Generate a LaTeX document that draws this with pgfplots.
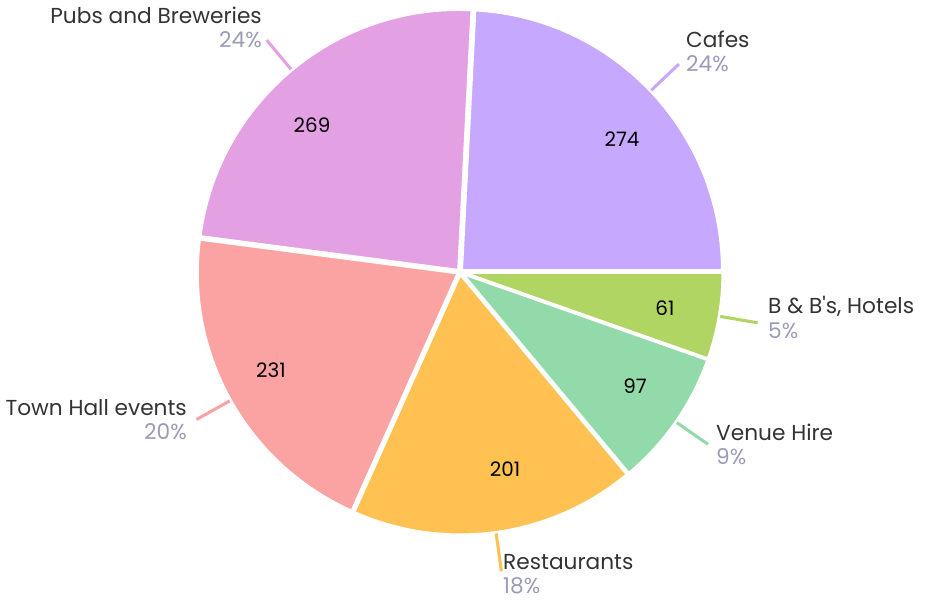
\documentclass[border=0pt]{standalone}
\usepackage{fontspec}
\setmainfont{Poppins}
\usepackage{pgfplots}
\usepackage{pgfplotstable}
\pgfplotsset{compat=1.18}

\definecolor{c0}{HTML}{C6A8FE}
\definecolor{c1}{HTML}{B1D563}
\definecolor{c2}{HTML}{93DAAA}
\definecolor{c3}{HTML}{FEC152}
\definecolor{c4}{HTML}{FBA3A3}
\definecolor{c5}{HTML}{E3A0E3}
\definecolor{nametext}{HTML}{333333}
\definecolor{pcttext}{HTML}{9B9BB8}

% slices, clockwise from Cafes
\pgfplotstableread[col sep=comma]{
idx,value
0,274
1,61
2,97
3,201
4,231
5,269
}\piedata

\newcommand\pS[1]{\csname pieS#1\endcsname}
\newcommand\pE[1]{\csname pieE#1\endcsname}
\newcommand\pV[1]{\csname pieV#1\endcsname}

\begin{document}%
\begin{tikzpicture}
% totals and angles computed from the data
\gdef\total{0}
\foreach \i in {0,...,5}{%
  \pgfplotstablegetelem{\i}{value}\of\piedata
  \pgfmathsetmacro\t{\total+\pgfplotsretval}%
  \xdef\total{\t}%
}
\pgfplotstablegetelem{0}{value}\of\piedata
\pgfmathsetmacro\curtmp{360*(\pgfplotsretval/\total)}
\xdef\cur{\curtmp}
\foreach \i in {0,...,5}{%
  \pgfplotstablegetelem{\i}{value}\of\piedata
  \pgfmathsetmacro\e{\cur-360*(\pgfplotsretval/\total)}%
  \expandafter\xdef\csname pieS\i\endcsname{\cur}%
  \expandafter\xdef\csname pieE\i\endcsname{\e}%
  \expandafter\xdef\csname pieV\i\endcsname{\pgfplotsretval}%
  \xdef\cur{\e}%
}
\begin{axis}[
  x=0.03cm, y=0.03cm,
  xmin=0, xmax=926, ymin=0, ymax=600,
  hide axis, clip=false,
]
\coordinate (bbSW) at (axis cs:0,0);
\coordinate (bbNE) at (axis cs:926,600);
\pgfplotsinvokeforeach{0,...,5}{
  \fill[fill=c#1, draw=white, line width=2.6pt, line join=round]
    (axis cs:{460+2*cos((\pS{#1}+\pE{#1})/2)},{328+2*sin((\pS{#1}+\pE{#1})/2)})
    -- (axis cs:{460+2*cos((\pS{#1}+\pE{#1})/2)+261*cos(\pS{#1})},{328+2*sin((\pS{#1}+\pE{#1})/2)+261*sin(\pS{#1})})
    arc[start angle=\pS{#1}, end angle=\pE{#1}, radius=7.83cm] -- cycle;
  \draw[c#1, line width=2.6pt]
    (axis cs:{460+264*cos((\pS{#1}+\pE{#1})/2)},{328+264*sin((\pS{#1}+\pE{#1})/2)})
    -- (axis cs:{460+302*cos((\pS{#1}+\pE{#1})/2)},{328+302*sin((\pS{#1}+\pE{#1})/2)});
}
% value labels
\tikzset{vl/.style={font=\fontsize{17}{20}\selectfont, text=black, inner sep=0pt}}
\node[vl] at (axis cs:622,461) {\pV{0}};
\node[vl] at (axis cs:665,292) {\pV{1}};
\node[vl] at (axis cs:635,214) {\pV{2}};
\node[vl] at (axis cs:505,131) {\pV{3}};
\node[vl] at (axis cs:271,230) {\pV{4}};
\node[vl] at (axis cs:312,475) {\pV{5}};
% outside labels
\tikzset{nm/.style={font=\fontsize{18.5}{21}\selectfont, text=nametext, inner sep=0pt},
         pc/.style={font=\fontsize{18.5}{21}\selectfont, text=pcttext, inner sep=0pt}}
\node[nm, anchor=west] at (axis cs:686,561) {Cafes};
\node[pc, anchor=west] at (axis cs:686,536) {24\%};
\node[nm, anchor=west] at (axis cs:768,294) {B \& B\textquotesingle s, Hotels};
\node[pc, anchor=west] at (axis cs:768,269) {5\%};
\node[nm, anchor=west] at (axis cs:716,168) {Venue Hire};
\node[pc, anchor=west] at (axis cs:716,143) {9\%};
\node[nm, anchor=west] at (axis cs:503,38) {Restaurants};
\node[pc, anchor=west] at (axis cs:503,14) {18\%};
\node[nm, anchor=east] at (axis cs:187,192) {Town Hall events};
\node[pc, anchor=east] at (axis cs:187,168) {20\%};
\node[nm, anchor=east] at (axis cs:262,585) {Pubs and Breweries};
\node[pc, anchor=east] at (axis cs:262,560) {24\%};
\end{axis}
\pgfresetboundingbox
\path (bbSW) rectangle (bbNE);
\end{tikzpicture}%
\end{document}
